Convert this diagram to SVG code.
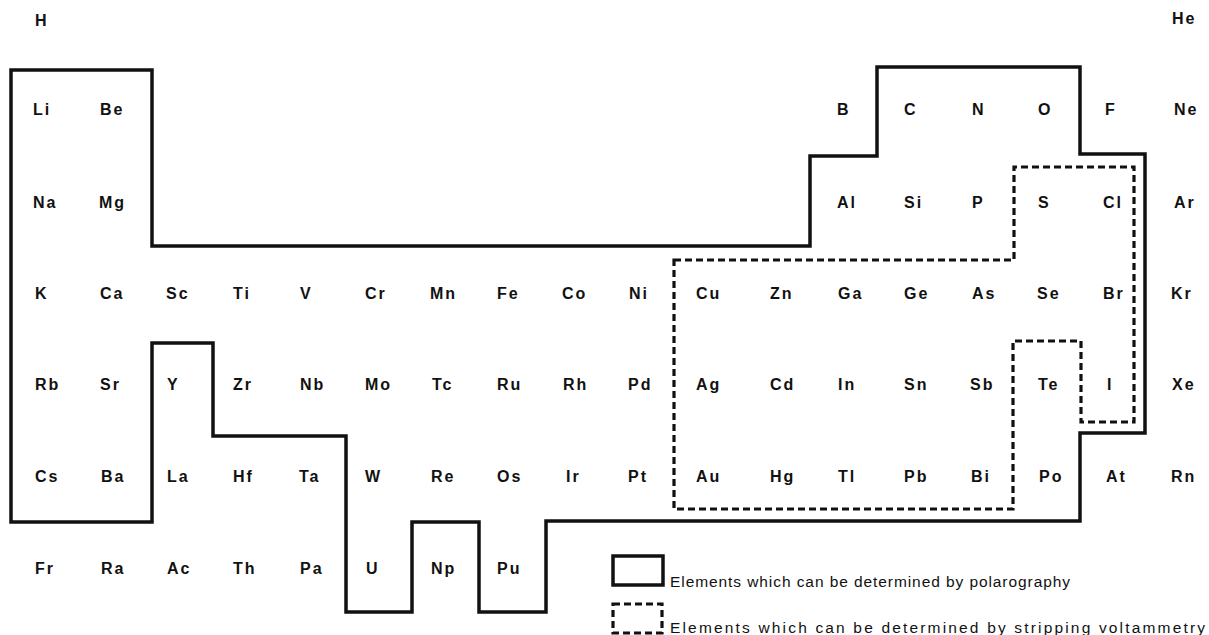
<svg xmlns="http://www.w3.org/2000/svg" width="1209" height="635" viewBox="0 0 1209 635">
<style>
.el{font-family:"Liberation Sans",Arial,sans-serif;font-weight:bold;font-size:16px;letter-spacing:2px;fill:#111}
.lg{font-family:"Liberation Sans",Arial,sans-serif;font-size:15.5px;fill:#111}
.solid{fill:none;stroke:#111;stroke-width:3.5;stroke-linejoin:miter}
.dash{fill:none;stroke:#111;stroke-width:3.2;stroke-dasharray:7 4}
</style>
<rect width="1209" height="635" fill="#fff"/>
<g id="regions">
<path id="polarography-outline" class="solid" d="M11,70 H152 V246 H810 V156 H877 V67 H1080 V154 H1145 V433 H1080 V521 H546 V612 H479 V522 H412 V612 H346 V436 H213 V343 H152 V522 H11 Z"/>
<path id="stripping-outline" class="dash" d="M674,260 H1014 V167 H1134 V422 H1081 V341 H1013 V509 H674 Z"/>
</g>
<g id="elements">
<g id="H"><text class="el" x="35" y="26">H</text></g>
<g id="He"><text class="el" x="1172" y="24">He</text></g>
<g id="Li"><text class="el" x="33" y="115">Li</text></g>
<g id="Be"><text class="el" x="100" y="115">Be</text></g>
<g id="B"><text class="el" x="837" y="115">B</text></g>
<g id="C"><text class="el" x="904" y="115">C</text></g>
<g id="N"><text class="el" x="972" y="115">N</text></g>
<g id="O"><text class="el" x="1038" y="115">O</text></g>
<g id="F"><text class="el" x="1105" y="115">F</text></g>
<g id="Ne"><text class="el" x="1174" y="115">Ne</text></g>
<g id="Na"><text class="el" x="33" y="208">Na</text></g>
<g id="Mg"><text class="el" x="99" y="208">Mg</text></g>
<g id="Al"><text class="el" x="837" y="208">Al</text></g>
<g id="Si"><text class="el" x="904" y="208">Si</text></g>
<g id="P"><text class="el" x="972" y="208">P</text></g>
<g id="S"><text class="el" x="1038" y="208">S</text></g>
<g id="Cl"><text class="el" x="1103" y="208">Cl</text></g>
<g id="Ar"><text class="el" x="1174" y="208">Ar</text></g>
<g id="K"><text class="el" x="35" y="299">K</text></g>
<g id="Ca"><text class="el" x="100" y="299">Ca</text></g>
<g id="Sc"><text class="el" x="166" y="299">Sc</text></g>
<g id="Ti"><text class="el" x="233" y="299">Ti</text></g>
<g id="V"><text class="el" x="300" y="299">V</text></g>
<g id="Cr"><text class="el" x="365" y="299">Cr</text></g>
<g id="Mn"><text class="el" x="430" y="299">Mn</text></g>
<g id="Fe"><text class="el" x="497" y="299">Fe</text></g>
<g id="Co"><text class="el" x="562" y="299">Co</text></g>
<g id="Ni"><text class="el" x="629" y="299">Ni</text></g>
<g id="Cu"><text class="el" x="696" y="299">Cu</text></g>
<g id="Zn"><text class="el" x="770" y="299">Zn</text></g>
<g id="Ga"><text class="el" x="838" y="299">Ga</text></g>
<g id="Ge"><text class="el" x="904" y="299">Ge</text></g>
<g id="As"><text class="el" x="972" y="299">As</text></g>
<g id="Se"><text class="el" x="1037" y="299">Se</text></g>
<g id="Br"><text class="el" x="1103" y="299">Br</text></g>
<g id="Kr"><text class="el" x="1171" y="299">Kr</text></g>
<g id="Rb"><text class="el" x="35" y="390">Rb</text></g>
<g id="Sr"><text class="el" x="100" y="390">Sr</text></g>
<g id="Y"><text class="el" x="167" y="390">Y</text></g>
<g id="Zr"><text class="el" x="233" y="390">Zr</text></g>
<g id="Nb"><text class="el" x="300" y="390">Nb</text></g>
<g id="Mo"><text class="el" x="365" y="390">Mo</text></g>
<g id="Tc"><text class="el" x="432" y="390">Tc</text></g>
<g id="Ru"><text class="el" x="497" y="390">Ru</text></g>
<g id="Rh"><text class="el" x="563" y="390">Rh</text></g>
<g id="Pd"><text class="el" x="628" y="390">Pd</text></g>
<g id="Ag"><text class="el" x="696" y="390">Ag</text></g>
<g id="Cd"><text class="el" x="770" y="390">Cd</text></g>
<g id="In"><text class="el" x="838" y="390">In</text></g>
<g id="Sn"><text class="el" x="904" y="390">Sn</text></g>
<g id="Sb"><text class="el" x="970" y="390">Sb</text></g>
<g id="Te"><text class="el" x="1038" y="390">Te</text></g>
<g id="I"><text class="el" x="1107" y="390">I</text></g>
<g id="Xe"><text class="el" x="1172" y="390">Xe</text></g>
<g id="Cs"><text class="el" x="35" y="482">Cs</text></g>
<g id="Ba"><text class="el" x="101" y="482">Ba</text></g>
<g id="La"><text class="el" x="167" y="482">La</text></g>
<g id="Hf"><text class="el" x="233" y="482">Hf</text></g>
<g id="Ta"><text class="el" x="299" y="482">Ta</text></g>
<g id="W"><text class="el" x="365" y="482">W</text></g>
<g id="Re"><text class="el" x="431" y="482">Re</text></g>
<g id="Os"><text class="el" x="497" y="482">Os</text></g>
<g id="Ir"><text class="el" x="566" y="482">Ir</text></g>
<g id="Pt"><text class="el" x="628" y="482">Pt</text></g>
<g id="Au"><text class="el" x="696" y="482">Au</text></g>
<g id="Hg"><text class="el" x="770" y="482">Hg</text></g>
<g id="Tl"><text class="el" x="838" y="482">Tl</text></g>
<g id="Pb"><text class="el" x="904" y="482">Pb</text></g>
<g id="Bi"><text class="el" x="971" y="482">Bi</text></g>
<g id="Po"><text class="el" x="1039" y="482">Po</text></g>
<g id="At"><text class="el" x="1106" y="482">At</text></g>
<g id="Rn"><text class="el" x="1171" y="482">Rn</text></g>
<g id="Fr"><text class="el" x="35" y="574">Fr</text></g>
<g id="Ra"><text class="el" x="101" y="574">Ra</text></g>
<g id="Ac"><text class="el" x="167" y="574">Ac</text></g>
<g id="Th"><text class="el" x="233" y="574">Th</text></g>
<g id="Pa"><text class="el" x="300" y="574">Pa</text></g>
<g id="U"><text class="el" x="366" y="574">U</text></g>
<g id="Np"><text class="el" x="431" y="574">Np</text></g>
<g id="Pu"><text class="el" x="497" y="574">Pu</text></g>
</g>
<g id="legend">
<g id="legend-polarography">
<rect class="solid" x="613" y="556" width="50" height="29"/>
<text class="lg" x="670" y="587" textLength="400" lengthAdjust="spacing">Elements which can be determined by polarography</text>
</g>
<g id="legend-stripping">
<rect class="dash" x="613" y="604" width="49" height="29"/>
<text class="lg" x="670" y="633" textLength="535" lengthAdjust="spacing">Elements which can be determined by stripping voltammetry</text>
</g>
</g>
</svg>
